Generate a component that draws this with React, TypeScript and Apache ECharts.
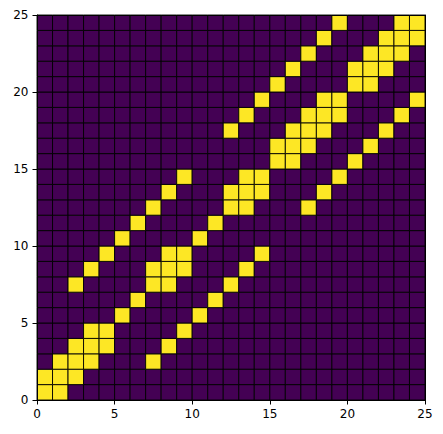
import React, { useEffect, useRef } from "react";
import * as echarts from "echarts";

// Columns that are "on" (yellow) in each row, row 0 = bottom
const rowOnes: number[][] = [
  [0, 1],
  [0, 1, 2],
  [1, 2, 3, 7],
  [2, 3, 4, 8],
  [3, 4, 9],
  [5, 10],
  [6, 11],
  [2, 7, 8, 12],
  [3, 7, 8, 9, 13],
  [4, 8, 9, 14],
  [5, 10],
  [6, 11],
  [7, 12, 13, 17],
  [8, 12, 13, 14, 18],
  [9, 13, 14, 19],
  [15, 16, 20],
  [15, 16, 17, 21],
  [12, 16, 17, 18, 22],
  [13, 17, 18, 19, 23],
  [14, 18, 19, 24],
  [15, 20, 21],
  [16, 20, 21, 22],
  [17, 21, 22, 23],
  [18, 22, 23, 24],
  [19, 23, 24],
];
const gridSize = 25;
const tickValues = [0, 5, 10, 15, 20, 25];

const OFF_COLOR = "#440154";
const ON_COLOR = "#fde725";

export default function App() {
  const ref = useRef<HTMLDivElement>(null);
  useEffect(() => {
    if (!ref.current) return;
    const chart = echarts.init(ref.current, undefined, { renderer: "svg" });
    const data: number[][] = [];
    for (let r = 0; r < gridSize; r++) {
      for (let c = 0; c < gridSize; c++) {
        data.push([c, r, rowOnes[r].includes(c) ? 1 : 0]);
      }
    }
    const font = { fontFamily: "DejaVu Sans", fontSize: 12, color: "#000" };
    const baseAxis = (pos: string) => ({
      type: "value" as const,
      min: tickValues[0],
      max: tickValues[tickValues.length - 1],
      interval: 5,
      position: pos,
      z: 10,
      splitLine: { show: false },
      axisLine: { show: true, onZero: false, lineStyle: { color: "#000", width: 1 } },
    });
    chart.setOption({
      animation: false,
      backgroundColor: "#fff",
      grid: { left: 37, right: 18, top: 15, bottom: 34, containLabel: false },
      xAxis: [
        {
          ...baseAxis("bottom"),
          axisTick: { show: true, inside: false, length: 4.5, lineStyle: { color: "#000", width: 1 } },
          axisLabel: { ...font, margin: 8 },
        },
        {
          ...baseAxis("top"),
          axisTick: { show: false },
          axisLabel: { show: false },
        },
      ],
      yAxis: [
        {
          ...baseAxis("left"),
          axisTick: { show: true, inside: false, length: 4.5, lineStyle: { color: "#000", width: 1 } },
          axisLabel: { ...font, margin: 8.5 },
        },
        {
          ...baseAxis("right"),
          axisTick: { show: false },
          axisLabel: { show: false },
        },
      ],
      series: [
        {
          type: "custom",
          xAxisIndex: 0,
          yAxisIndex: 0,
          encode: { x: 0, y: 1 },
          data,
          renderItem: (params: any, api: any) => {
            const x = api.value(0);
            const y = api.value(1);
            const v = api.value(2);
            const p0 = api.coord([x, y + 1]);
            const p1 = api.coord([x + 1, y]);
            return {
              type: "rect",
              shape: { x: p0[0], y: p0[1], width: p1[0] - p0[0], height: p1[1] - p0[1] },
              style: { fill: v ? ON_COLOR : OFF_COLOR, stroke: "#000", lineWidth: 0.9 },
            };
          },
        },
      ],
    });
    return () => chart.dispose();
  }, []);
  return (
    <div
      ref={ref}
      style={{ position: "fixed", left: 0, top: 0, width: 443, height: 434 }}
    />
  );
}
